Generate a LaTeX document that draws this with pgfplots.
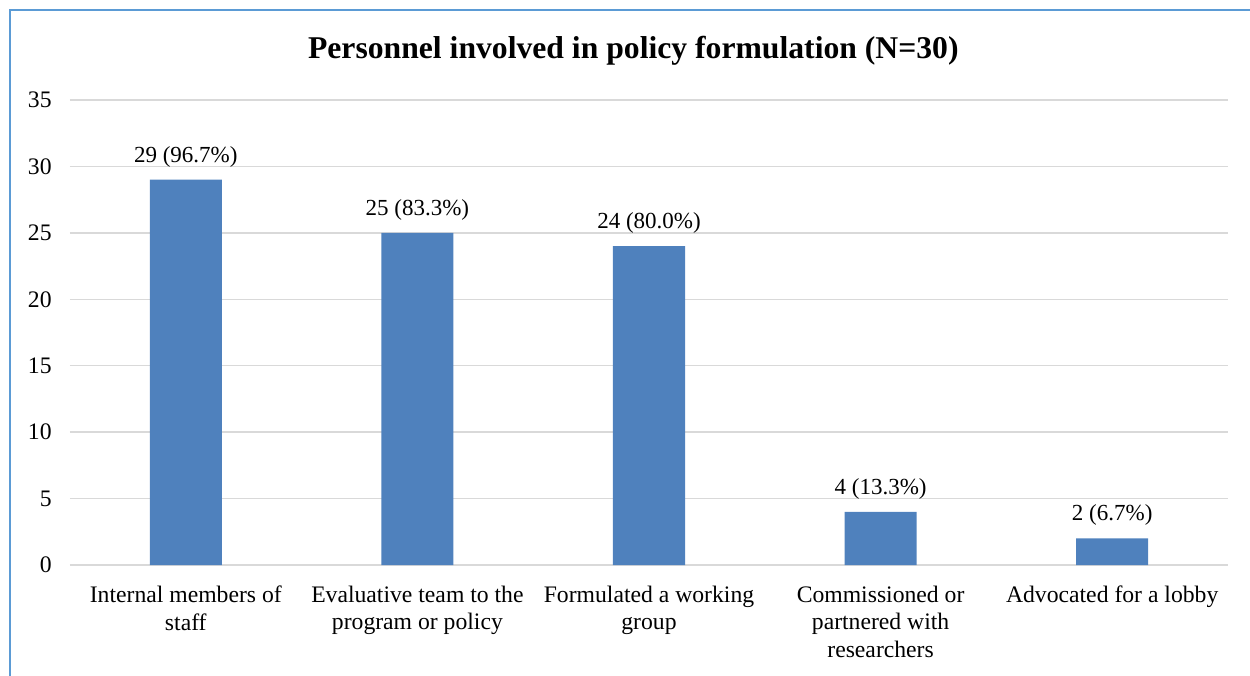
\documentclass[border=0pt]{standalone}
\usepackage{pgfplots}
\pgfplotsset{compat=1.18}
\usepackage{fontspec}
\setmainfont{Liberation Serif}
\definecolor{barblue}{HTML}{4F81BD}
\definecolor{gridgray}{HTML}{D9D9D9}
\definecolor{frameblue}{HTML}{5B9BD5}
\begin{document}
\begin{tikzpicture}[x=1pt,y=1pt]
\useasboundingbox (0,0) rectangle (750,405);
\draw[frameblue, line width=0.9pt] (6,-10) rectangle (760,399);
\node[font=\fontsize{19}{22}\selectfont\bfseries] at (380,374.5) {Personnel involved in policy formulation (N=30)};
\begin{axis}[
  at={(42pt,66pt)}, anchor=south west,
  scale only axis, width=694.8pt, height=279pt,
  xmin=-0.5, xmax=4.5, ymin=0, ymax=35,
  ytick={0,5,...,35},
  xtick={0,1,2,3,4},
  xticklabels={{Internal members of\\staff},{Evaluative team to the\\program or policy},{Formulated a working\\group},{Commissioned or\\partnered with\\researchers},{Advocated for a lobby}},
  xticklabel style={align=center, font=\fontsize{14.2}{16.6}\selectfont, yshift=-9pt},
  yticklabel style={font=\fontsize{14.2}{16.8}\selectfont, xshift=-7.5pt},
  /pgf/number format/assume math mode=true,
  ymajorgrids, grid style={draw=gridgray, line width=0.9pt},
  axis x line=bottom, axis y line=left,
  axis line style={-},
  y axis line style={draw=none},
  x axis line style={draw=gridgray, line width=0.9pt},
  major tick length=0pt,
  tick style={draw=none},
  ybar, bar width=43.2pt,
  nodes near coords,
  point meta=explicit symbolic,
  every node near coord/.append style={font=\fontsize{13.8}{16.8}\selectfont, anchor=south, yshift=4pt},
  clip=false,
]
\addplot[fill=barblue, draw=none] coordinates {
  (0,29) [29 (96.7\%)]
  (1,25) [25 (83.3\%)]
  (2,24) [24 (80.0\%)]
  (3,4) [4 (13.3\%)]
  (4,2) [2 (6.7\%)]
};
\end{axis}
\end{tikzpicture}
\end{document}
